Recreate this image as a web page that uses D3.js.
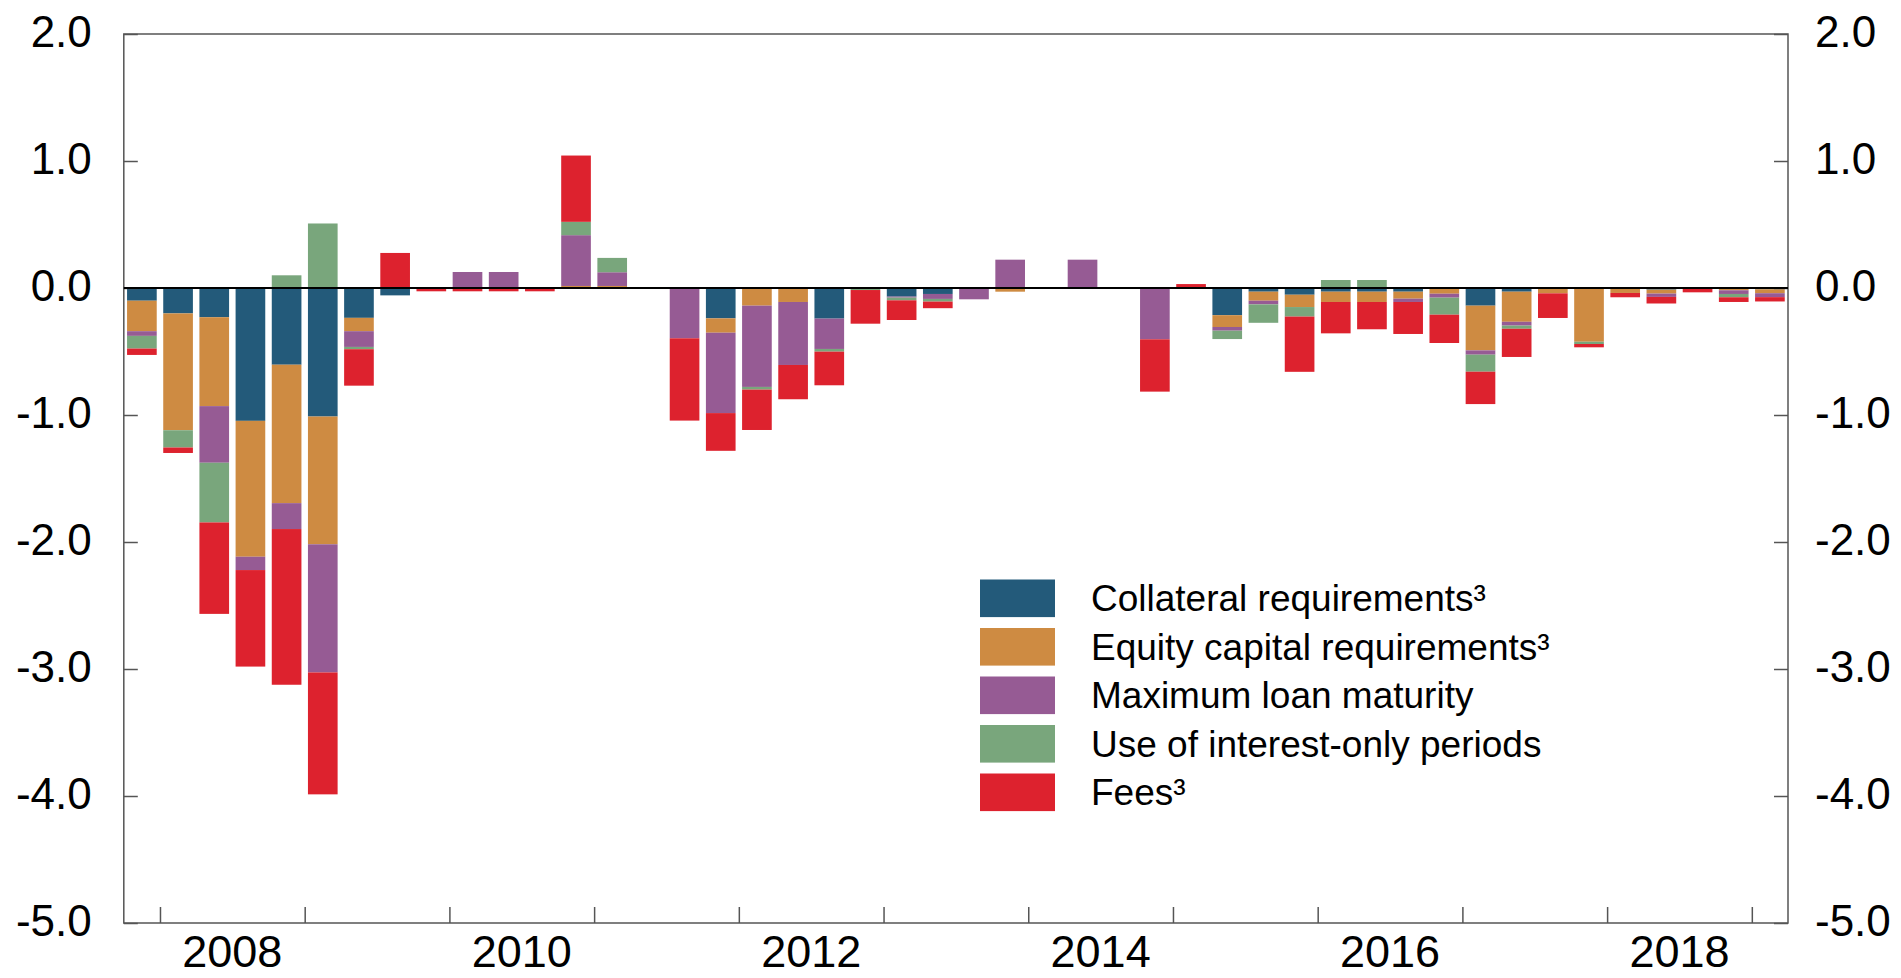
<!DOCTYPE html>
<html>
<head>
<meta charset="utf-8">
<script src="https://cdn.jsdelivr.net/npm/d3@7"></script>
<style>
  html, body { margin: 0; padding: 0; background: #ffffff; }
  svg { display: block; font-family: "Liberation Sans", Arial, Helvetica, sans-serif; }
</style>
</head>
<body>
<svg id="chart" width="1901" height="978"></svg>
<script>
// ---------------- DATA ----------------
const quarters = [
  "2007Q4",
  "2008Q1","2008Q2","2008Q3","2008Q4",
  "2009Q1","2009Q2","2009Q3","2009Q4",
  "2010Q1","2010Q2","2010Q3","2010Q4",
  "2011Q1","2011Q2","2011Q3","2011Q4",
  "2012Q1","2012Q2","2012Q3","2012Q4",
  "2013Q1","2013Q2","2013Q3","2013Q4",
  "2014Q1","2014Q2","2014Q3","2014Q4",
  "2015Q1","2015Q2","2015Q3","2015Q4",
  "2016Q1","2016Q2","2016Q3","2016Q4",
  "2017Q1","2017Q2","2017Q3","2017Q4",
  "2018Q1","2018Q2","2018Q3","2018Q4",
  "2019Q1"
];

const collateral = [
  -0.10,
  -0.20, -0.23, -1.046, -0.604,
  -1.012, -0.235, -0.058, 0,
  0, 0, 0, 0,
  0, 0, 0, -0.239,
  0, 0, -0.241, 0,
  -0.068, -0.047, 0, 0,
  0, 0, 0, 0,
  0, -0.214, -0.029, -0.053,
  -0.029, -0.029, -0.029, 0,
  -0.139, -0.029, 0, 0,
  0, -0.013, 0, 0,
  -0.010
];

const equity = [
  -0.24,
  -0.92, -0.70, -1.07, -1.09,
  -1.006, -0.105, 0, 0,
  0, 0, 0, 0.016,
  0.016, 0, 0, -0.113,
  -0.139, -0.11, 0, 0,
  0, 0, 0, -0.029,
  0, 0, 0, 0,
  0, -0.093, -0.071, -0.097,
  -0.081, -0.081, -0.055, -0.045,
  -0.352, -0.237, -0.042, -0.423,
  -0.039, -0.031, 0, -0.018,
  -0.031
];

const maturity = [
  -0.037,
  0, -0.446, -0.105, -0.204,
  -1.009, -0.124, 0, 0,
  0.126, 0.126, 0, 0.40,
  0.108, 0, -0.396, -0.633,
  -0.64, -0.496, -0.239, 0,
  -0.008, -0.039, -0.089, 0.223,
  0, 0.223, 0, -0.404,
  0, -0.029, -0.029, 0,
  0, 0, -0.026, -0.031,
  -0.034, -0.030, 0, 0,
  0, -0.026, 0, -0.029,
  -0.031
];

const interestOnly = [
  -0.10,
  -0.136, -0.47, 0, 0.10,
  0.508, -0.018, 0, 0,
  0, 0, 0, 0.105,
  0.113, 0, 0, 0,
  -0.021, 0, -0.021, -0.016,
  -0.021, -0.021, 0, 0,
  0, 0, 0, 0,
  0, -0.066, -0.145, -0.075,
  0.063, 0.063, 0, -0.134,
  -0.134, -0.025, 0, -0.018,
  0, 0, 0, -0.026,
  0
];

const fees = [
  -0.05,
  -0.043, -0.72, -0.76, -1.226,
  -0.96, -0.287, 0.276, -0.026,
  -0.026, -0.026, -0.026, 0.522,
  0, 0, -0.648, -0.297,
  -0.318, -0.27, -0.265, -0.265,
  -0.155, -0.052, 0, 0,
  0, 0, 0, -0.412,
  0.031, 0, 0, -0.435,
  -0.247, -0.215, -0.252, -0.223,
  -0.255, -0.222, -0.194, -0.026,
  -0.034, -0.052, -0.034, -0.037,
  -0.034
];

const seriesNames = [
  "Collateral requirements³",
  "Equity capital requirements³",
  "Maximum loan maturity",
  "Use of interest-only periods",
  "Fees³"
];
const seriesColors = ["#235a7a", "#ce8b42", "#965b94", "#79a67c", "#dd222e"];

const yTicks = [2, 1, 0, -1, -2, -3, -4, -5];
const yearLabels = ["2008", "2010", "2012", "2014", "2016", "2018"];

// ---------------- BUILD ----------------
const seriesValues = [collateral, equity, maturity, interestOnly, fees];
const keys = seriesNames;
const table = quarters.map((q, i) => {
  const row = { q };
  keys.forEach((k, j) => { row[k] = seriesValues[j][i]; });
  return row;
});

const svg = d3.select("#chart");
const plotLeft = 123.8, plotRight = 1788, plotTop = 34, plotBottom = 923;

const x = d3.scaleBand().domain(quarters).range([plotLeft, plotRight])
  .paddingInner(0.18).paddingOuter(0.09);
const xi = d3.scaleLinear().domain([0, quarters.length]).range([plotLeft, plotRight]);
const y = d3.scaleLinear().domain([-5, 2]).range([plotBottom, plotTop]);

const stack = d3.stack().keys(keys).offset(d3.stackOffsetDiverging);
const stacked = stack(table);

// bars
svg.append("g").selectAll("g")
  .data(stacked)
  .join("g")
  .attr("fill", (d, i) => seriesColors[i])
  .selectAll("rect")
  .data(d => d)
  .join("rect")
  .attr("x", d => x(d.data.q))
  .attr("width", x.bandwidth())
  .attr("y", d => y(Math.max(d[0], d[1])))
  .attr("height", d => Math.abs(y(d[0]) - y(d[1])));

const fmt = d => d.toFixed(1);
const frameColor = "#555";

// left axis
const gL = svg.append("g").attr("transform", `translate(${plotLeft},0)`)
  .call(d3.axisLeft(y).tickValues(yTicks).tickSize(-14).tickPadding(0).tickFormat(fmt));
gL.select(".domain").remove();
gL.selectAll(".tick line").attr("stroke", frameColor).attr("stroke-width", 1.5);
gL.selectAll(".tick text")
  .attr("x", -32).attr("dy", "0.29em")
  .attr("font-size", 44).attr("fill", "#000")
  .attr("font-family", "Liberation Sans, Arial, sans-serif");

// right axis
const gR = svg.append("g").attr("transform", `translate(${plotRight},0)`)
  .call(d3.axisRight(y).tickValues(yTicks).tickSize(-14).tickPadding(0).tickFormat(fmt));
gR.select(".domain").remove();
gR.selectAll(".tick line").attr("stroke", frameColor).attr("stroke-width", 1.5);
gR.selectAll(".tick text")
  .attr("x", 27).attr("dy", "0.29em")
  .attr("font-size", 44).attr("fill", "#000")
  .attr("font-family", "Liberation Sans, Arial, sans-serif");

// bottom axis ticks at year boundaries
const yearTickIdx = d3.range(1, quarters.length, 4);
const gB = svg.append("g").attr("transform", `translate(0,${plotBottom})`)
  .call(d3.axisBottom(xi).tickValues(yearTickIdx).tickSize(-16).tickFormat(""));
gB.select(".domain").remove();
gB.selectAll(".tick line").attr("stroke", frameColor).attr("stroke-width", 1.5);

// year labels (centred in the year)
svg.append("g").selectAll("text")
  .data(yearLabels)
  .join("text")
  .attr("x", d => xi(quarters.indexOf(d + "Q1") + 2))
  .attr("y", 967)
  .attr("text-anchor", "middle")
  .attr("font-size", 45)
  .attr("fill", "#000")
  .text(d => d);

// frame
svg.append("rect")
  .attr("x", plotLeft).attr("y", y(2))
  .attr("width", plotRight - plotLeft).attr("height", y(-5) - y(2))
  .attr("fill", "none").attr("stroke", frameColor).attr("stroke-width", 1.5);

// zero line
svg.append("line")
  .attr("x1", plotLeft).attr("x2", plotRight)
  .attr("y1", y(0)).attr("y2", y(0))
  .attr("stroke", "#000").attr("stroke-width", 2);

// legend
const legend = svg.append("g").attr("transform", "translate(980,579.5)");
const lg = legend.selectAll("g")
  .data(seriesNames)
  .join("g")
  .attr("transform", (d, i) => `translate(0,${i * 48.5})`);
lg.append("rect")
  .attr("width", 75).attr("height", 37.6)
  .attr("fill", (d, i) => seriesColors[i]);
lg.append("text")
  .attr("x", 111).attr("y", 18.8).attr("dy", "0.35em")
  .attr("font-size", 37).attr("fill", "#000")
  .text(d => d);
</script>
</body>
</html>
